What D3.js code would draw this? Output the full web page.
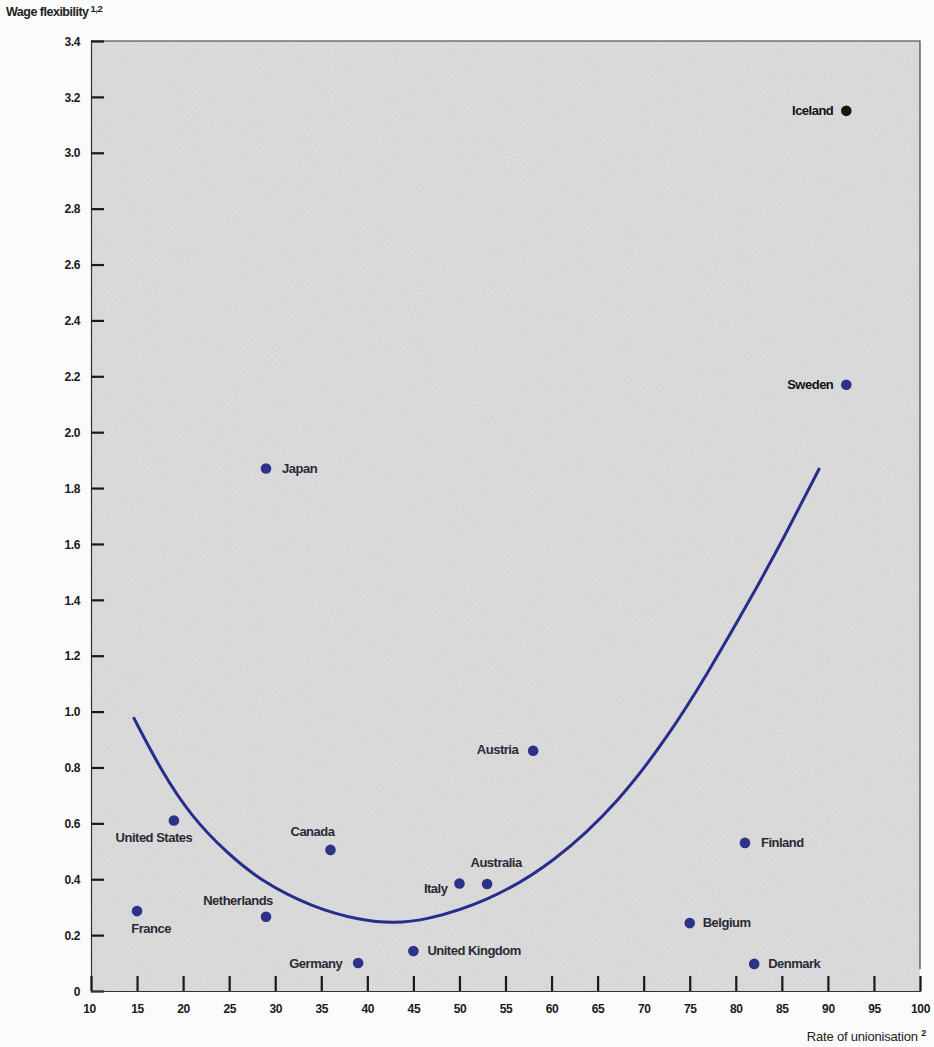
<!DOCTYPE html>
<html>
<head>
<meta charset="utf-8">
<script src="https://cdn.jsdelivr.net/npm/d3@7"></script>
<style>
  html, body { margin: 0; padding: 0; background: #fbfbfb; }
  svg { display: block; font-family: "Liberation Sans", Arial, sans-serif; }
</style>
</head>
<body>
<div id="chart"></div>
<script>
// values
const countries = ['Iceland', 'Sweden', 'Japan', 'Austria', 'United States', 'Canada', 'Finland',
                   'Italy', 'Australia', 'France', 'Netherlands', 'Belgium', 'United Kingdom',
                   'Germany', 'Denmark'];
const unionisation = [92, 92, 29, 58, 19, 36, 81, 50, 53, 15, 29, 75, 45, 39, 82];
const flexibility = [3.15, 2.17, 1.87, 0.86, 0.61, 0.505, 0.53, 0.385, 0.383, 0.286, 0.266, 0.243, 0.143, 0.10, 0.097];

// fitted curve
const curve_x = [14.6, 17.6, 20.8, 24.8, 28.4, 33.9, 39.3, 42.9, 46.2, 53.0, 60.2, 67.5, 72.9, 76.5, 81.9, 85.5, 89.1];
const curve_y = [0.98, 0.79, 0.628, 0.492, 0.395, 0.301, 0.252, 0.243, 0.252, 0.319, 0.456, 0.682, 0.925, 1.112, 1.42, 1.64, 1.872];

const x_ticks = d3.range(10, 101, 5);
const y_ticks = d3.range(0, 3.41, 0.2);

// label placement next to each dot (layout only)
const label_pos = {
  'Iceland':        {anchor: 'end',    dx: -13, dy: 4},
  'Sweden':         {anchor: 'end',    dx: -13, dy: 4},
  'Japan':          {anchor: 'start',  dx: 16,  dy: 4},
  'Austria':        {anchor: 'end',    dx: -15, dy: 3},
  'United States':  {anchor: 'middle', dx: -20, dy: 21},
  'Canada':         {anchor: 'middle', dx: -18, dy: -14},
  'Finland':        {anchor: 'start',  dx: 16,  dy: 4},
  'Italy':          {anchor: 'end',    dx: -12, dy: 10},
  'Australia':      {anchor: 'middle', dx: 9,   dy: -17},
  'France':         {anchor: 'middle', dx: 14,  dy: 22},
  'Netherlands':    {anchor: 'middle', dx: -28, dy: -12},
  'Belgium':        {anchor: 'start',  dx: 13,  dy: 4},
  'United Kingdom': {anchor: 'start',  dx: 14,  dy: 4},
  'Germany':        {anchor: 'end',    dx: -16, dy: 5},
  'Denmark':        {anchor: 'start',  dx: 14,  dy: 4}
};

const width = 934, height = 1047;
const x = d3.scaleLinear([10, 100], [91, 920]);
const y = d3.scaleLinear([0, 3.4], [991, 41]);

const svg = d3.select('#chart').append('svg')
  .attr('width', width)
  .attr('height', height);

// paper grain for the plot area
const defs = svg.append('defs');
const grain = defs.append('filter').attr('id', 'grain')
  .attr('x', 0).attr('y', 0).attr('width', 1).attr('height', 1);
grain.append('feTurbulence')
  .attr('type', 'fractalNoise')
  .attr('baseFrequency', 0.9)
  .attr('numOctaves', 2)
  .attr('seed', 3)
  .attr('result', 'noise');
grain.append('feColorMatrix')
  .attr('in', 'noise')
  .attr('type', 'matrix')
  .attr('values', '0 0 0 0 0.4  0 0 0 0 0.4  0 0 0 0 0.4  0 0 0 0.3 0');
grain.append('feComposite').attr('in2', 'SourceGraphic').attr('operator', 'in');

svg.append('rect')
  .attr('x', x(10)).attr('y', y(3.4))
  .attr('width', x(100) - x(10)).attr('height', y(0) - y(3.4))
  .attr('fill', '#e2e1e1');
svg.append('rect')
  .attr('x', x(10)).attr('y', y(3.4))
  .attr('width', x(100) - x(10)).attr('height', y(0) - y(3.4))
  .attr('fill', '#fff')
  .attr('filter', 'url(#grain)');

// top and right border
svg.append('path')
  .attr('d', d3.line()([[x(10), y(3.4)], [x(100), y(3.4)], [x(100), y(0) - 22]]))
  .attr('fill', 'none')
  .attr('stroke', '#333')
  .attr('stroke-width', 1.1);

// axes
const y_axis = svg.append('g')
  .attr('transform', `translate(${x(10)},0)`)
  .call(d3.axisLeft(y).tickValues(y_ticks).tickSize(-13).tickPadding(11)
    .tickFormat(d => d === 0 ? '0' : d3.format('.1f')(d)));

const x_axis = svg.append('g')
  .attr('transform', `translate(0,${y(0)})`)
  .call(d3.axisBottom(x).tickValues(x_ticks).tickSize(-15).tickPadding(13));

[y_axis, x_axis].forEach(g => {
  g.select('.domain').attr('stroke', '#333').attr('stroke-width', 1.2);
  g.selectAll('.tick line').attr('stroke', '#1a1a1a').attr('stroke-width', 2.2);
  g.selectAll('.tick text')
    .attr('fill', '#1a1a1a')
    .attr('font-size', 12)
    .attr('font-weight', 'bold')
    .attr('letter-spacing', -0.4);
});
y_axis.selectAll('.tick text').attr('dy', '0.35em');
x_axis.selectAll('.tick').filter(d => d === 10).select('text').attr('dx', -2);

// axis titles
const y_title = svg.append('text')
  .attr('x', 6).attr('y', 16)
  .attr('font-size', 12.5).attr('font-weight', 'bold')
  .attr('letter-spacing', -0.5)
  .attr('fill', '#222');
y_title.append('tspan').text('Wage flexibility');
y_title.append('tspan').attr('dx', 2).attr('dy', -4).attr('font-size', 9.5).text('1,2');

const x_title = svg.append('text')
  .attr('x', 926).attr('y', 1041)
  .attr('text-anchor', 'end')
  .attr('font-size', 13)
  .attr('letter-spacing', -0.2)
  .attr('fill', '#222');
x_title.append('tspan').text('Rate of unionisation ');
x_title.append('tspan').attr('dy', -5).attr('font-size', 9).attr('font-weight', 'bold').text('2');

// fitted curve
const curve_pts = curve_x.map((d, i) => [d, curve_y[i]]);
svg.append('path')
  .datum(curve_pts)
  .attr('d', d3.line().x(d => x(d[0])).y(d => y(d[1])).curve(d3.curveBasis))
  .attr('fill', 'none')
  .attr('stroke', '#262d8c')
  .attr('stroke-width', 3);

// dots and labels
const points = countries.map((c, i) => ({name: c, x: unionisation[i], y: flexibility[i]}));

const pt = svg.append('g').selectAll('g')
  .data(points)
  .join('g')
  .attr('transform', d => `translate(${x(d.x)},${y(d.y)})`);

pt.append('circle')
  .attr('r', 5.3)
  .attr('fill', d => d.name === 'Iceland' ? '#161616' : '#2c3287');

pt.append('text')
  .attr('x', d => label_pos[d.name].dx)
  .attr('y', d => label_pos[d.name].dy)
  .attr('text-anchor', d => label_pos[d.name].anchor)
  .attr('font-size', 13)
  .attr('font-weight', 'bold')
  .attr('letter-spacing', -0.5)
  .attr('fill', d => (d.name === 'Iceland' || d.name === 'Sweden') ? '#111' : '#2a2a36')
  .text(d => d.name);
</script>
</body>
</html>
